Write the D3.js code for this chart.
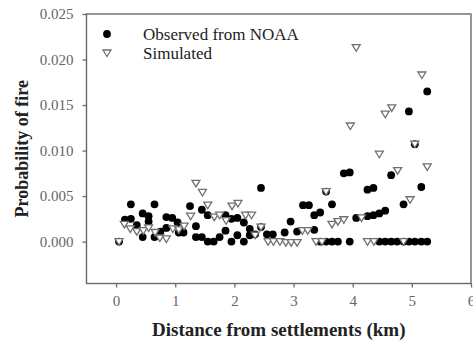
<!DOCTYPE html>
<html><head><meta charset="utf-8">
<script src="https://cdn.jsdelivr.net/npm/d3@7"></script>
<style>body{margin:0;background:#fff}svg{display:block}</style>
</head><body>
<svg id="c" width="473" height="341"></svg>
<script>
// Observed from NOAA (distance km, probability)
const obsX = [0.05,0.15,0.25,0.25,0.35,0.45,0.45,0.55,0.55,0.65,0.65,0.75,0.85,0.85,0.95,1.04,1.06,1.14,1.25,1.35,1.35,1.45,1.45,1.55,1.55,1.65,1.75,
  1.85,1.85,1.95,1.95,2.05,2.05,2.16,2.16,2.26,2.26,2.35,2.45,2.45,2.55,2.65,2.85,2.95,3.06,3.16,3.26,3.35,3.35,3.45,3.45,
  3.55,3.55,3.65,3.65,3.75,3.85,3.95,3.95,4.06,4.25,4.25,4.35,4.35,4.45,4.45,4.55,4.55,4.65,4.65,4.75,4.86,4.86,4.95,4.95,5.05,5.05,5.16,5.16,5.26,5.26];
const obsY = [0.0000,0.0024,0.0041,0.0025,0.0018,0.0031,0.0005,0.0028,0.0022,0.0041,0.0005,0.0011,0.0027,0.0015,0.0026,0.0021,0.0010,0.0010,0.0039,0.0017,0.0005,0.0035,0.0005,0.0029,0.0000,0.0000,0.0005,
  0.0029,0.0012,0.0025,0.0000,0.0026,0.0007,0.0021,0.0000,0.0014,0.0007,0.0008,0.0059,0.0016,0.0008,0.0008,0.0010,0.0022,0.0011,0.0040,0.0040,0.0029,0.0013,0.0032,0.0000,
  0.0055,0.0000,0.0041,0.0000,0.0000,0.0075,0.0076,0.0000,0.0026,0.0057,0.0028,0.0059,0.0029,0.0031,0.0000,0.0034,0.0000,0.0073,0.0000,0.0000,0.0041,0.0000,0.0143,0.0000,0.0107,0.0000,0.0060,0.0000,0.0165,0.0000];
// Simulated
const simX = [0.05,0.14,0.24,0.35,0.46,0.55,0.66,0.74,0.85,0.96,1.06,1.15,1.26,1.35,1.46,1.55,1.66,1.75,1.86,1.96,2.06,2.19,2.29,2.35,2.45,
  2.57,2.66,2.77,2.87,2.96,3.06,3.15,3.24,3.38,3.48,3.55,3.65,3.75,3.85,3.96,4.06,4.15,4.25,4.36,4.45,4.55,4.66,4.76,4.86,4.97,5.05,5.17,5.26];
const simY = [0.0000,0.0019,0.0014,0.0011,0.0012,0.0015,0.0010,0.0004,0.0003,0.0014,0.0013,0.0017,0.0028,0.0064,0.0054,0.0040,0.0027,0.0029,0.0023,0.0039,0.0042,0.0029,0.0029,0.0007,0.0016,
  0.0000,0.0000,0.0000,-0.0001,-0.0001,-0.0001,0.0012,0.0012,0.0000,0.0000,0.0055,0.0019,0.0022,0.0024,0.0127,0.0213,0.0026,0.0000,0.0000,0.0096,0.0140,0.0147,0.0078,0.0000,0.0046,0.0107,0.0183,0.0082];
const xTicks = [0,1,2,3,4,5,6];
const yTicks = [0.000,0.005,0.010,0.015,0.020,0.025];
const legendLabels = ["Observed from NOAA","Simulated"];
const xTitle = "Distance from settlements (km)";
const yTitle = "Probability of fire";

const svg = d3.select("#c");
const L = 86.5, R = 471, T = 14, B = 283.5;
const x = d3.scaleLinear().domain([-0.5, 6]).range([L, R]);
const y = d3.scaleLinear().domain([-0.0046, 0.025]).range([B, T]);
const axisCol = "#6a6a6a", tickTxt = "#666";
const serif = "'Liberation Serif','DejaVu Serif',serif";

// frame
svg.append("rect").attr("x", L).attr("y", T).attr("width", R - L).attr("height", B - T)
  .attr("fill", "none").attr("stroke", axisCol).attr("stroke-width", 1.4);

const xa = svg.append("g").attr("transform", `translate(0,${B})`)
  .call(d3.axisBottom(x).tickValues(xTicks).tickFormat(d3.format("d")).tickSize(4).tickPadding(8));
const ya = svg.append("g").attr("transform", `translate(${L},0)`)
  .call(d3.axisLeft(y).tickValues(yTicks).tickFormat(d3.format(".3f")).tickSize(4).tickPadding(9));
[xa, ya].forEach(g => {
  g.select(".domain").remove();
  g.selectAll("line").attr("stroke", axisCol).attr("stroke-width", 1.3);
  g.selectAll("text").attr("fill", tickTxt).attr("font-family", serif).attr("font-size", 15);
});

// observed
svg.append("g").selectAll("circle").data(obsX.map((d, i) => [d, obsY[i]])).join("circle")
  .attr("cx", d => x(d[0])).attr("cy", d => y(d[1])).attr("r", 3.9).attr("fill", "#000");

// simulated
const tri = "M-4,-3L4,-3L0,3.6Z";
svg.append("g").selectAll("path").data(simX.map((d, i) => [d, simY[i]])).join("path")
  .attr("d", tri).attr("transform", d => `translate(${x(d[0])},${y(d[1])})`)
  .attr("fill", "#fff").attr("stroke", "#707070").attr("stroke-width", 1.3);

// legend
const lg = svg.append("g");
lg.append("circle").attr("cx", 107).attr("cy", 34).attr("r", 3.9).attr("fill", "#000");
lg.append("path").attr("d", tri).attr("transform", "translate(107,53)")
  .attr("fill", "#fff").attr("stroke", "#707070").attr("stroke-width", 1.3);
lg.selectAll("text").data(legendLabels).join("text")
  .attr("x", 143).attr("y", (d, i) => 34 + i * 19).attr("dy", "0.35em")
  .attr("font-family", serif).attr("font-size", 17).attr("fill", "#222").text(d => d);

// titles
svg.append("text").attr("x", (L + R) / 2).attr("y", 329).attr("dy", "0.35em").attr("text-anchor", "middle")
  .attr("font-family", serif).attr("font-weight", "bold").attr("font-size", 19).attr("fill", "#222").text(xTitle);
svg.append("text").attr("transform", `translate(22,${(T + B) / 2}) rotate(-90)`).attr("dy", "0.35em")
  .attr("text-anchor", "middle").attr("font-family", serif).attr("font-weight", "bold")
  .attr("font-size", 18).attr("fill", "#222").text(yTitle);
</script>
</body></html>
